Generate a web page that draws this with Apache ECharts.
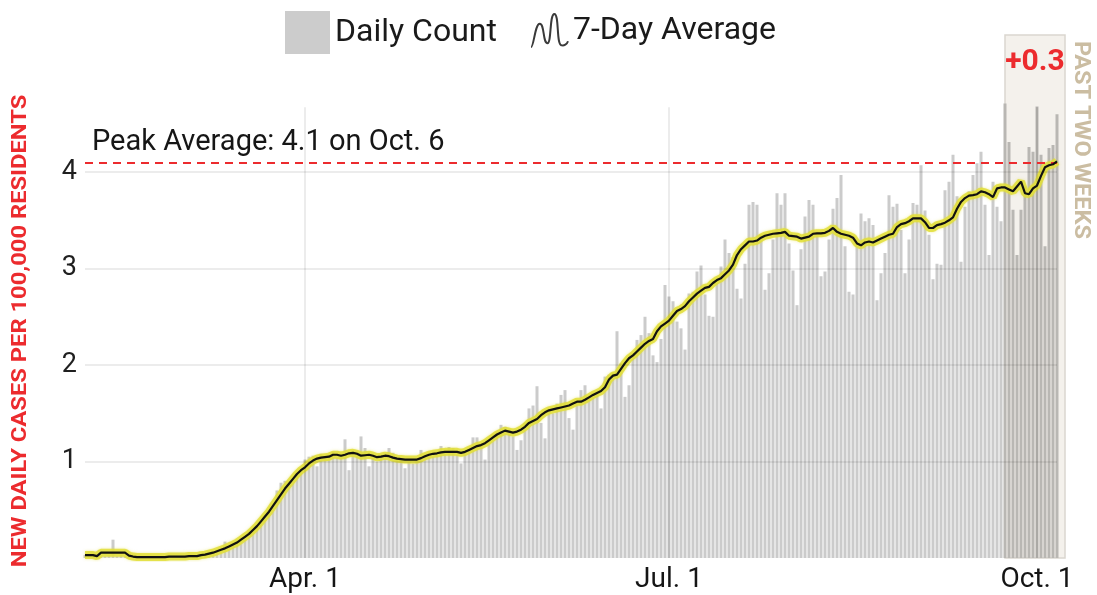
<!DOCTYPE html>
<html>
<head>
<meta charset="utf-8">
<title>New daily cases per 100,000 residents</title>
<script src="https://cdn.jsdelivr.net/npm/echarts@6.0.0/dist/echarts.min.js"></script>
<style>
  html, body { margin: 0; padding: 0; background: #fff; }
  #main { width: 1097px; height: 595px; }
</style>
</head>
<body>
<div id="main"></div>
<script type="text/javascript">
// --- data (one value a day, Feb. 6 to Oct. 6) ---
var firstDay = '2020-02-06';
var dayCount = 246;           // two empty days at the end so the band reaches past Oct. 6
var bandStart = '2020-09-23';
var bandEnd = '2020-10-08';
var lastDataDay = '2020-10-06';

var tickDates = ['2020-04-01', '2020-07-01', '2020-10-01'];
var tickLabels = ['Apr. 1', 'Jul. 1', 'Oct. 1'];
var yTicks = [1, 2, 3, 4];

var dailyCount = [
  0.03, 0.02, 0.04, 0.02, 0.03, 0.02, 0.03, 0.19, 0.02, 0.03,
  0.02, 0.01, 0.01, 0.01, 0.00, 0.01, 0.02, 0.01, 0.01, 0.00,
  0.02, 0.01, 0.02, 0.01, 0.02, 0.02, 0.01, 0.03, 0.02, 0.03,
  0.04, 0.05, 0.06, 0.07, 0.09, 0.17, 0.11, 0.13, 0.17, 0.20,
  0.21, 0.27, 0.30, 0.31, 0.40, 0.44, 0.50, 0.52, 0.70, 0.78,
  0.80, 0.80, 0.82, 0.88, 0.93, 1.02, 1.05, 1.06, 0.95, 1.08,
  1.04, 1.07, 1.10, 1.04, 1.08, 1.23, 0.91, 1.06, 1.10, 1.26,
  1.14, 0.95, 1.04, 1.00, 1.06, 1.08, 1.14, 1.09, 1.02, 1.01,
  0.93, 1.00, 0.98, 1.04, 1.12, 1.06, 1.08, 1.05, 1.10, 1.16,
  1.08, 1.15, 1.14, 1.07, 0.98, 1.10, 1.13, 1.25, 1.25, 1.15,
  1.02, 1.20, 1.28, 1.30, 1.38, 1.36, 1.33, 1.26, 1.12, 1.22,
  1.40, 1.55, 1.58, 1.78, 1.40, 1.24, 1.52, 1.50, 1.60, 1.69,
  1.74, 1.45, 1.33, 1.62, 1.74, 1.79, 1.67, 1.71, 1.70, 1.55,
  1.88, 1.90, 1.92, 2.35, 2.02, 1.67, 1.79, 2.12, 2.26, 2.31,
  2.50, 2.33, 2.10, 2.03, 2.27, 2.83, 2.71, 2.66, 2.45, 2.38,
  2.16, 2.74, 2.76, 2.97, 3.03, 2.73, 2.51, 2.50, 2.85, 3.02,
  3.30, 3.16, 3.12, 2.79, 2.69, 3.05, 3.66, 3.69, 3.66, 3.35,
  2.78, 2.95, 3.30, 3.78, 3.66, 3.78, 3.26, 2.98, 2.62, 3.20,
  3.54, 3.71, 3.66, 3.35, 2.92, 2.97, 3.30, 3.62, 3.73, 3.97,
  3.23, 2.76, 2.73, 3.25, 3.57, 3.49, 3.52, 3.45, 2.67, 2.95,
  3.16, 3.76, 3.64, 3.67, 3.40, 2.95, 3.30, 3.68, 3.66, 4.07,
  3.60, 3.35, 2.89, 3.05, 3.04, 3.81, 3.90, 4.18, 3.75, 3.07,
  3.64, 3.80, 3.97, 4.09, 4.21, 3.66, 3.14, 3.90, 3.64, 3.49,
  4.71, 4.31, 3.61, 3.14, 3.61, 3.85, 4.26, 4.21, 4.68, 4.18,
  3.23, 4.25, 4.28, 4.60
];

var sevenDayAvg = [
  0.03, 0.03, 0.03, 0.02, 0.055, 0.055, 0.055, 0.055, 0.055, 0.055,
  0.055, 0.025, 0.015, 0.01, 0.01, 0.01, 0.01, 0.01, 0.01, 0.01,
  0.01, 0.015, 0.015, 0.015, 0.015, 0.015, 0.02, 0.02, 0.02, 0.03,
  0.035, 0.045, 0.055, 0.07, 0.085, 0.10, 0.12, 0.14, 0.16, 0.19,
  0.22, 0.25, 0.29, 0.33, 0.38, 0.43, 0.48, 0.54, 0.60, 0.66,
  0.72, 0.77, 0.82, 0.87, 0.91, 0.94, 0.98, 1.01, 1.03, 1.04,
  1.045, 1.05, 1.07, 1.07, 1.06, 1.07, 1.085, 1.09, 1.08, 1.06,
  1.065, 1.07, 1.06, 1.045, 1.05, 1.06, 1.055, 1.04, 1.03, 1.025,
  1.02, 1.02, 1.02, 1.02, 1.035, 1.055, 1.07, 1.08, 1.085, 1.095,
  1.10, 1.10, 1.10, 1.10, 1.09, 1.10, 1.12, 1.14, 1.16, 1.17,
  1.19, 1.22, 1.25, 1.28, 1.30, 1.32, 1.31, 1.30, 1.31, 1.33,
  1.36, 1.40, 1.42, 1.44, 1.48, 1.51, 1.53, 1.54, 1.55, 1.56,
  1.57, 1.58, 1.60, 1.62, 1.62, 1.64, 1.665, 1.69, 1.71, 1.73,
  1.77, 1.85, 1.89, 1.90, 1.96, 2.02, 2.07, 2.10, 2.14, 2.18,
  2.22, 2.25, 2.27, 2.35, 2.40, 2.43, 2.46, 2.51, 2.56, 2.58,
  2.61, 2.66, 2.70, 2.74, 2.77, 2.80, 2.81, 2.85, 2.88, 2.90,
  2.94, 2.98, 3.04, 3.14, 3.20, 3.24, 3.28, 3.28, 3.29, 3.32,
  3.34, 3.35, 3.36, 3.365, 3.37, 3.38, 3.34, 3.335, 3.33, 3.31,
  3.32, 3.33, 3.36, 3.365, 3.365, 3.37, 3.39, 3.42, 3.38, 3.36,
  3.35, 3.34, 3.32, 3.26, 3.24, 3.27, 3.28, 3.27, 3.29, 3.31,
  3.33, 3.35, 3.36, 3.43, 3.46, 3.47, 3.49, 3.52, 3.52, 3.52,
  3.48, 3.42, 3.42, 3.45, 3.46, 3.475, 3.50, 3.53, 3.62, 3.69,
  3.73, 3.755, 3.76, 3.77, 3.80, 3.79, 3.77, 3.74, 3.83, 3.84,
  3.84, 3.82, 3.80, 3.85, 3.90, 3.78, 3.77, 3.83, 3.86, 3.96,
  4.05, 4.07, 4.08, 4.11
];

var peakValue = 4.1;
var peakText = 'Peak Average: 4.1 on Oct. 6';
var changeText = '+0.3';
var gridTop = 4.67;   // vertical grid lines stop here
var yTitle = 'NEW DAILY CASES PER 100,000 RESIDENTS';

// --- dates for the category axis ---
var dates = [];
var t0 = Date.parse(firstDay + 'T00:00:00Z');
for (var i = 0; i < dayCount; i++) {
    dates.push(new Date(t0 + i * 86400000).toISOString().slice(0, 10));
}
var bandIndex = dates.indexOf(bandStart);

var red = '#ec2b2e';
var fonts = 'Roboto, "Helvetica Neue", Arial, sans-serif';

// grid lines are drawn over the bars, like in the original
var gridLines = [];
yTicks.forEach(function (v) {
    gridLines.push([{ coord: [dates[0], v] }, { coord: [lastDataDay, v] }]);
});
tickDates.forEach(function (d) {
    gridLines.push([{ coord: [d, 0] }, { coord: [d, gridTop] }]);
});

var myChart = echarts.init(document.getElementById('main'), null, { renderer: 'canvas' });

var option = {
    animation: false,
    backgroundColor: '#ffffff',
    textStyle: { fontFamily: fonts },
    legend: [
        {
            left: 285, top: 11, padding: 0,
            itemWidth: 45, itemHeight: 43,
            selectedMode: false,
            icon: 'rect',
            textStyle: { fontSize: 32, color: '#1a1a1a', fontFamily: fonts, padding: [4, 0, 0, 0] },
            data: [{ name: 'Daily Count', itemStyle: { color: '#cccccc' } }]
        },
        {
            left: 530, top: 13, padding: 0,
            itemWidth: 37, itemHeight: 38,
            selectedMode: false,
            textStyle: { fontSize: 32, color: '#1a1a1a', fontFamily: fonts, padding: [4, 0, 0, 0] },
            data: [{
                name: '7-Day Average',
                icon: 'path://M0,34C3,34 4,10 9,10C14,10 12,30 17,30C21,30 19,0 24,0C29,0 26,31 31,32C34,33 37,31 38,28',
                itemStyle: { color: 'rgba(0,0,0,0)', borderColor: '#3a3a3a', borderWidth: 2 }
            }]
        }
    ],
    grid: { left: 83, right: 30, top: 35, bottom: 37 },
    xAxis: {
        type: 'category',
        data: dates,
        boundaryGap: true,
        axisLine: { show: false },
        axisTick: { show: false },
        splitLine: { show: false },
        axisLabel: {
            interval: function (idx, value) { return tickDates.indexOf(value) >= 0; },
            formatter: function (value) {
                var k = tickDates.indexOf(value);
                return k >= 0 ? tickLabels[k] : '';
            },
            fontSize: 28, color: '#151515', margin: 8, fontFamily: fonts
        }
    },
    yAxis: {
        type: 'value',
        min: 0, max: 5.42, interval: 1,
        axisLine: { show: false },
        axisTick: { show: false },
        splitLine: { show: false },
        axisLabel: {
            showMaxLabel: false,
            formatter: function (v) { return yTicks.indexOf(v) >= 0 ? String(v) : ''; },
            fontSize: 27, color: '#1f1f1f', margin: 6, fontFamily: fonts
        }
    },
    series: [
        {
            // past two weeks band
            name: 'band', type: 'line', data: [], z: 1, silent: true,
            markArea: {
                silent: true,
                itemStyle: { color: '#f4f1ec', borderColor: '#dad6cf', borderWidth: 1.5 },
                label: {
                    show: true, position: 'insideTop', distance: 13,
                    formatter: changeText,
                    fontSize: 30, fontWeight: 'bold', color: red, fontFamily: fonts
                },
                data: [[{ xAxis: bandStart }, { xAxis: bandEnd }]]
            }
        },
        {
            name: 'Daily Count', type: 'bar', data: dailyCount, z: 2,
            barWidth: 3, silent: true,
            itemStyle: {
                color: function (p) { return p.dataIndex >= bandIndex ? '#b9b7b3' : '#cbcbcb'; }
            }
        },
        {
            name: 'grid', type: 'line', data: [], z: 3, silent: true,
            markLine: {
                silent: true, symbol: 'none',
                label: { show: false },
                lineStyle: { color: 'rgba(0,0,0,0.075)', width: 2, type: 'solid' },
                data: gridLines
            }
        },
        {
            name: 'glow', type: 'line', data: sevenDayAvg, z: 4, silent: true,
            symbol: 'none',
            lineStyle: { color: 'rgba(226,222,56,0.85)', width: 8, shadowColor: 'rgba(226,222,56,0.6)', shadowBlur: 3 }
        },
        {
            name: '7-Day Average', type: 'line', data: sevenDayAvg, z: 5, silent: true,
            symbol: 'none',
            lineStyle: { color: '#111111', width: 2.2 },
            markLine: {
                silent: true, symbol: 'none',
                lineStyle: { color: red, width: 2, type: [8, 6] },
                label: {
                    show: true, position: 'insideStartTop', distance: [7, 5],
                    formatter: peakText,
                    fontSize: 29, color: '#161616', fontFamily: fonts
                },
                data: [[{ coord: [dates[0], peakValue] }, { coord: [lastDataDay, peakValue] }]]
            }
        }
    ],
    graphic: [
        {
            type: 'text', x: 21, y: 331, rotation: Math.PI / 2, scaleX: 1.13, silent: true,
            style: {
                text: yTitle, fill: red,
                font: 'bold 21px ' + fonts,
                align: 'center', verticalAlign: 'middle'
            }
        },
        {
            type: 'text', x: 1080, y: 140, rotation: -Math.PI / 2, scaleX: 1.07, silent: true,
            style: {
                text: 'PAST TWO WEEKS', fill: '#cbbda2',
                font: 'bold 22px ' + fonts,
                align: 'center', verticalAlign: 'middle'
            }
        }
    ]
};

myChart.setOption(option);
</script>
</body>
</html>
